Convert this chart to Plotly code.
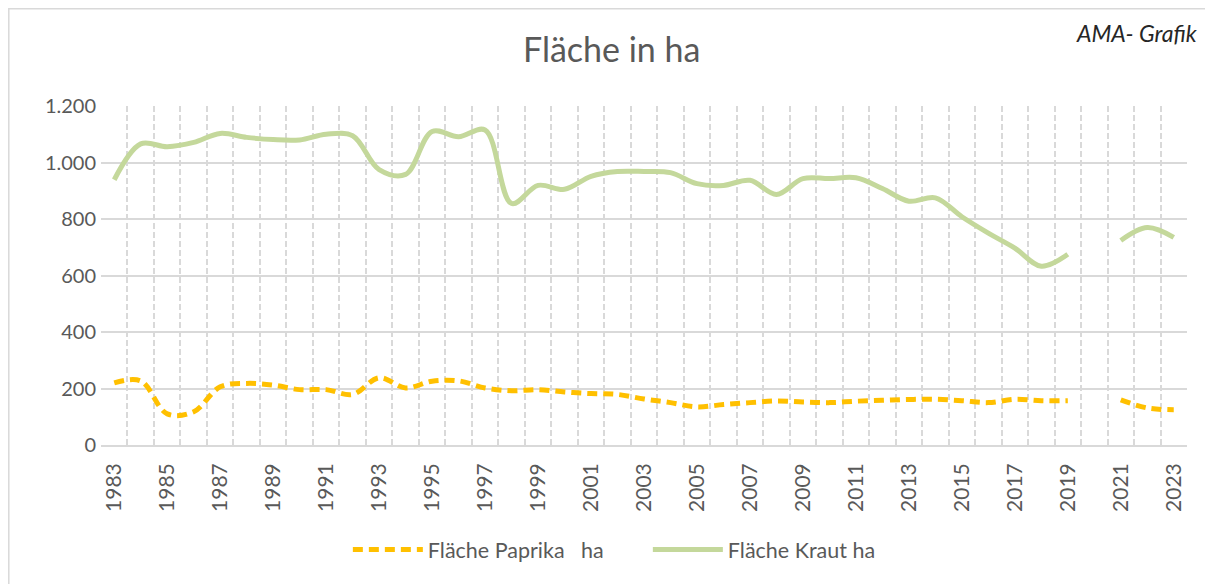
import plotly.graph_objects as go

# years on the category axis
years = list(range(1983, 2024))

# Fläche Kraut (ha), 2020 missing
kraut = [939, 1066, 1056, 1071, 1103, 1089, 1081, 1080, 1100, 1095,
         975, 958, 1110, 1091, 1115, 855, 919, 905, 951, 968,
         968, 964, 925, 919, 937, 887, 943, 943, 946, 908,
         863, 875, 808, 750, 697, 633, 675, None, 724, 770,
         735]

# Fläche Paprika (ha), 2020 missing
paprika = [220, 227, 110, 118, 206, 218, 212, 196, 196, 179,
           238, 202, 226, 227, 202, 192, 196, 188, 182, 179,
           163, 150, 135, 143, 150, 156, 152, 150, 155, 158,
           161, 162, 157, 150, 162, 157, 157, None, 160, 131,
           125]

label_years = years[::2]
y_ticks = [0, 200, 400, 600, 800, 1000, 1200]
y_labels = ["0", "200", "400", "600", "800", "1.000", "1.200"]

grey = "#595959"
grid = "#d9d9d9"
font = "Lato"

fig = go.Figure()
fig.add_trace(go.Scatter(
    x=years, y=paprika, name="Fläche Paprika   ha", mode="lines",
    line=dict(color="#ffc000", width=5, dash="10px,6px", shape="spline", smoothing=1),
))
fig.add_trace(go.Scatter(
    x=years, y=kraut, name="Fläche Kraut ha", mode="lines",
    line=dict(color="#c4d89b", width=5, shape="spline", smoothing=1),
))

# page has an 8px body margin, so the figure is a bit smaller than the window
fig.update_layout(
    width=1205, height=576,
    margin=dict(l=93, r=26, t=98, b=139),
    paper_bgcolor="white", plot_bgcolor="white",
    font=dict(family=font, color=grey, size=20),
    title=dict(text="Fläche in ha", x=0.501, xanchor="center", y=0.927, yanchor="middle",
               font=dict(family=font, size=34, color=grey)),
    showlegend=True,
    legend=dict(orientation="h", xref="container", x=0.531, xanchor="center",
                yref="container", y=0.06, yanchor="middle",
                font=dict(size=21.5, color=grey), itemwidth=70, traceorder="normal",
                entrywidth=215, entrywidthmode="pixels"),
    annotations=[dict(text="<i>AMA- Grafik</i>", xref="paper", yref="paper",
                      x=1.012, y=1.215, xanchor="right", yanchor="middle", showarrow=False,
                      font=dict(family=font, size=23, color="#262626"))],
    shapes=[dict(type="rect", xref="paper", yref="paper", x0=-0.0849, x1=1.06,
                 y0=-0.6, y1=1.2869, line=dict(color=grid, width=1.5), layer="below")],
)

fig.update_xaxes(
    range=[1982.5, 2023.5],
    tickmode="array", tickvals=label_years, ticktext=[str(y) for y in label_years],
    tickangle=-90, showgrid=False, ticks="", ticklabelstandoff=8,
    tickfont=dict(size=21, color=grey),
    showline=True, linecolor=grid, linewidth=1.6, zeroline=False,
    minor=dict(tickmode="array", tickvals=[y - 0.5 for y in years] + [2023.5],
               showgrid=True, gridcolor=grid, griddash="6px,3px", gridwidth=1.6, ticks=""),
)
fig.update_yaxes(
    range=[0, 1200], tickmode="array", tickvals=y_ticks, ticktext=y_labels,
    showgrid=True, gridcolor=grid, gridwidth=1.6, zeroline=False,
    tickfont=dict(size=20, color=grey), ticklabelstandoff=4,
)

fig.write_html("out.html")
